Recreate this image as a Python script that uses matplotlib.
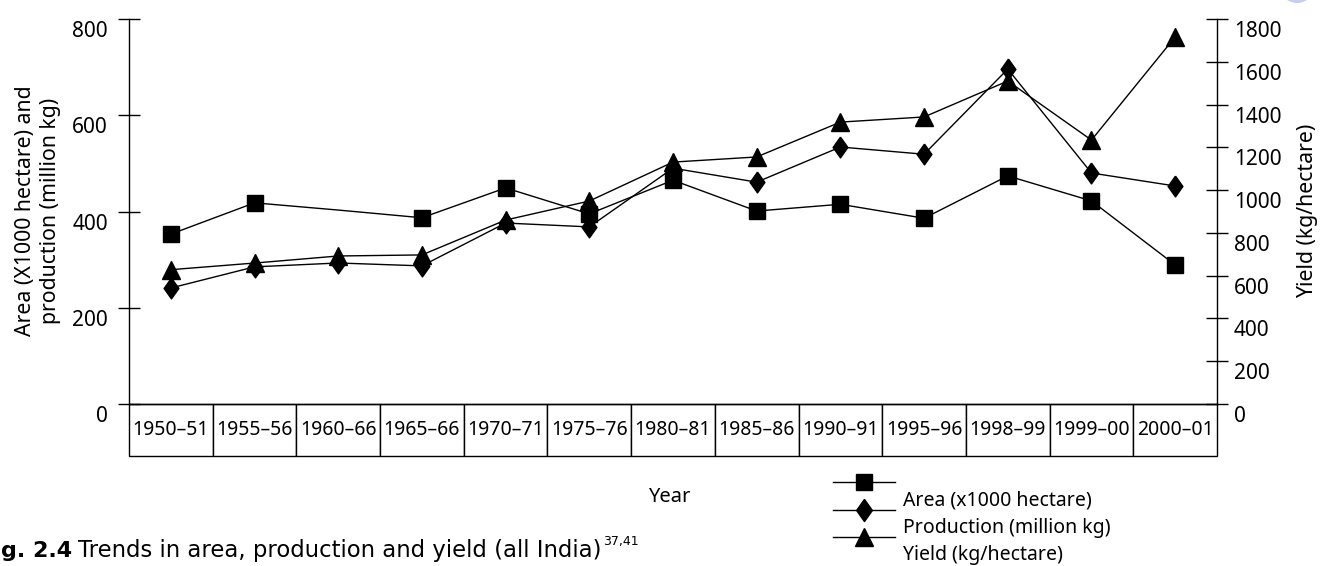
import matplotlib
matplotlib.use('Agg')
import matplotlib.pyplot as plt
from matplotlib.transforms import ScaledTranslation
from matplotlib.lines import Line2D
from matplotlib.patches import Ellipse
import numpy as np

# ---------------- data ----------------
years = ['1950–51', '1955–56', '1960–66', '1965–66', '1970–71', '1975–76', '1980–81',
         '1985–86', '1990–91', '1995–96', '1998–99', '1999–00', '2000–01']
area = [353, 418, 403, 387, 449, 395, 465, 401, 415, 386, 474, 422, 289]
production = [241, 285, 293, 287, 376, 368, 490, 461, 534, 519, 696, 480, 453]
yield_kg = [628, 659, 692, 697, 860, 949, 1131, 1155, 1318, 1342, 1510, 1234, 1716]
left_ticks = [0, 200, 400, 600, 800]
right_ticks = [0, 200, 400, 600, 800, 1000, 1200, 1400, 1600, 1800]
area_marked = [i for i in range(len(years)) if i != 2]   # 1960-66 point drawn without marker

plt.rcParams['font.family'] = ['Noto Sans', 'DejaVu Sans']

W, H = 1322, 566
fig = plt.figure(figsize=(W / 100, H / 100), dpi=100)
ax = fig.add_axes([129 / W, 1 - 404 / H, 1088 / W, 385 / H])
ax2 = ax.twinx()

diamond = [(0, 1), (0.71, 0), (0, -1), (-0.71, 0), (0, 1)]
x = np.arange(len(years))

ax.plot(x, area, color='black', lw=1.0, marker='s', ms=11, mfc='black', mec='black',
        markevery=area_marked, zorder=3)
ax.plot(x, production, color='black', lw=1.0, marker=diamond, ms=15, mfc='black', mec='black',
        zorder=3)
ax2.plot(x, yield_kg, color='black', lw=1.0, marker='^', ms=13, mfc='black', mec='black',
         zorder=3)

ax.set_xlim(-0.5, len(years) - 0.5)
ax.set_ylim(0, 800)
ax2.set_ylim(0, 1800)

for s in ['top', 'right']:
    ax.spines[s].set_visible(False)
for s in ['top', 'left', 'bottom']:
    ax2.spines[s].set_visible(False)
for a in (ax, ax2):
    for s in a.spines.values():
        s.set_linewidth(1.0)

ax.set_xticks([])
ax.set_yticks(left_ticks)
ax.tick_params(axis='y', direction='inout', length=16.5, width=1.0, pad=6.9, labelsize=15)
ax2.set_yticks(right_ticks)
ax2.tick_params(axis='y', direction='inout', length=16.5, width=1.0, pad=4, labelsize=15)
off = ScaledTranslation(0, -0.10, fig.dpi_scale_trans)
for t in list(ax.get_yticklabels()) + list(ax2.get_yticklabels()):
    t.set_transform(t.get_transform() + off)

# table of year labels under the plot
th = 52 / 385
tbl = ax.table(cellText=[years], cellLoc='center', bbox=[0, -th, 1, th])
tbl.auto_set_font_size(False)
tbl.set_fontsize(14)
for cell in tbl.get_celld().values():
    cell.set_linewidth(1.0)
    cell.set_edgecolor('black')

# axis labels
fig.text(38 / W, 1 - 211 / H, "Area (X1000 hectare) and\nproduction (million kg)", rotation=90,
         ha='center', va='center', fontsize=15.3, multialignment='center', linespacing=1.25)
fig.text(1308 / W, 1 - 211 / H, "Yield (kg/hectare)", rotation=90, ha='center', va='center',
         fontsize=15.3)
fig.text(669 / W, 1 - 497 / H, "Year", ha='center', va='center', fontsize=14.5)

# legend
handles = [Line2D([], [], color='black', lw=1.0, marker='s', ms=12),
           Line2D([], [], color='black', lw=1.0, marker=diamond, ms=16),
           Line2D([], [], color='black', lw=1.0, marker='^', ms=13)]
labels = ['Area (x1000 hectare)', 'Production (million kg)', 'Yield (kg/hectare)']
leg = ax.legend(handles, labels, loc='upper left', bbox_to_anchor=(833 / W, 1 - 474.3 / H),
                bbox_transform=fig.transFigure, frameon=False, fontsize=14, borderpad=0,
                borderaxespad=0, handlelength=3.2, handletextpad=0.4, labelspacing=0.37)
toff = ScaledTranslation(0, -0.165, fig.dpi_scale_trans)
for t in leg.get_texts():
    t.set_transform(t.get_transform() + toff)

# caption (bold figure number, text, superscript references)
base_y = 1 - 557 / H
cap_font = ['DejaVu Sans']
t1 = fig.text(1 / W, base_y, "g. 2.4", ha='left', va='baseline', fontsize=16,
              fontweight='bold', family=cap_font)
r = fig.canvas.get_renderer()
e1 = t1.get_window_extent(r)
t2 = fig.text((e1.x1 + 6) / W, base_y, "Trends in area, production and yield (all India)",
              ha='left', va='baseline', fontsize=16.4, family=cap_font)
e2 = t2.get_window_extent(r)
fig.text((e2.x1 + 1) / W, base_y + 12 / H, "37,41", ha='left', va='baseline', fontsize=9,
         family=cap_font)

# page decoration at the top right corner
fig.add_artist(Ellipse((1297 / W, 1 + 15 / H), 36 / W, 36 / H, transform=fig.transFigure,
                       facecolor='#c8cdea', edgecolor='none'))

fig.savefig('out.png', dpi=100)
